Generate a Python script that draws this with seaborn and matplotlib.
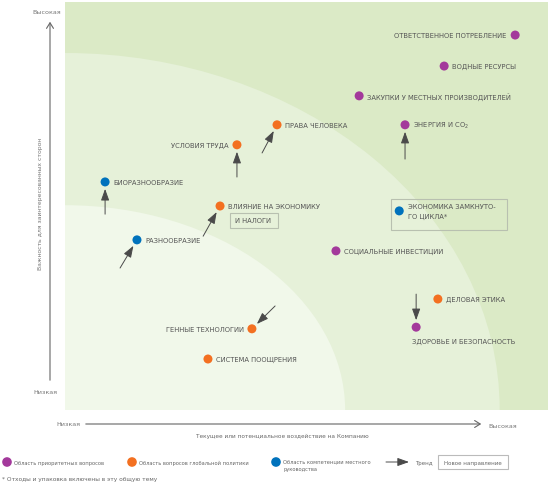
import matplotlib
matplotlib.use('Agg')
import matplotlib.pyplot as plt
from matplotlib.patches import Ellipse, Rectangle
import seaborn as sns
import pandas as pd

# Topics, position on the matrix (impact on company, importance for stakeholders)
topics = ['ОТВЕТСТВЕННОЕ ПОТРЕБЛЕНИЕ', 'ВОДНЫЕ РЕСУРСЫ', 'ЗАКУПКИ У МЕСТНЫХ ПРОИЗВОДИТЕЛЕЙ',
          'ЭНЕРГИЯ И CO$_{\\mathregular{2}}$', 'ПРАВА ЧЕЛОВЕКА', 'УСЛОВИЯ ТРУДА', 'БИОРАЗНООБРАЗИЕ',
          'ВЛИЯНИЕ НА ЭКОНОМИКУ', 'РАЗНООБРАЗИЕ', 'ЭКОНОМИКА ЗАМКНУТО-\nГО ЦИКЛА*',
          'СОЦИАЛЬНЫЕ ИНВЕСТИЦИИ', 'ДЕЛОВАЯ ЭТИКА', 'ЗДОРОВЬЕ И БЕЗОПАСНОСТЬ',
          'ГЕННЫЕ ТЕХНОЛОГИИ', 'СИСТЕМА ПООЩРЕНИЯ']
impact = [93.2, 78.5, 60.9, 70.4, 43.9, 35.6, 8.3, 32.1, 14.9, 69.2, 56.1, 77.2, 72.7, 38.7, 29.6]
importance = [91.9, 84.3, 77.0, 69.9, 69.9, 65.0, 55.9, 50.0, 41.7, 48.8, 39.0, 27.2, 20.3, 19.9, 12.5]
area = ['priority', 'priority', 'priority', 'priority', 'global', 'global', 'local',
        'global', 'local', 'local', 'priority', 'global', 'priority', 'global', 'global']

# Trend arrows: topic index, start point
trend_idx = [3, 4, 5, 6, 7, 8, 12, 13]
trend_x0 = [70.4, 40.8, 35.6, 8.3, 28.6, 11.4, 72.7, 43.5]
trend_y0 = [61.5, 63.0, 57.1, 48.0, 42.6, 34.8, 28.4, 25.5]

legend_labels = ['Область приоритетных вопросов', 'Область вопросов глобальной политики',
                 'Область компетенции местного\nруководства']

colors = {'priority': '#a3399b', 'global': '#f37021', 'local': '#0072bc'}

df = pd.DataFrame({'topic': topics, 'x': impact, 'y': importance, 'area': area})

sns.set_style('white')
plt.rcParams['font.family'] = ['Liberation Sans Narrow', 'DejaVu Sans']

fig = plt.figure(figsize=(5.51, 4.89), dpi=100)

# overlay in pixel coords for axis arrows and legend
ov = fig.add_axes([0, 0, 1, 1])
ov.set_xlim(0, 551)
ov.set_ylim(489, 0)
ov.axis('off')

ax = fig.add_axes([65 / 551, 78 / 489, 483 / 551, 408 / 489])
ax.set_xlim(0, 100)
ax.set_ylim(0, 100)
ax.set_facecolor('#dbeac6')
for s in ax.spines.values():
    s.set_visible(False)
ax.set_xticks([])
ax.set_yticks([])
ax.add_patch(Ellipse((0, 0), 180, 175, facecolor='#e6f1d9', edgecolor='none', zorder=0))
ax.add_patch(Ellipse((0, 0), 116, 100.4, facecolor='#f1f8ea', edgecolor='none', zorder=0))

sns.scatterplot(data=df, x='x', y='y', hue='area', palette=colors, s=42,
                edgecolor='none', legend=False, ax=ax, zorder=3)
ax.set_xlabel('')
ax.set_ylabel('')

fs = 4.9
side = {0: 'l', 5: 'l', 13: 'l', 12: 'b'}
tc = '#555555'
for i, row in df.iterrows():
    sd = side.get(i, 'r')
    if sd == 'r':
        ax.annotate(row['topic'], (row['x'], row['y']), xytext=(6, 0), textcoords='offset points',
                    ha='left', va='center', fontsize=fs, color=tc, linespacing=1.7)
    elif sd == 'l':
        ax.annotate(row['topic'], (row['x'], row['y']), xytext=(-6, 0), textcoords='offset points',
                    ha='right', va='center', fontsize=fs, color=tc)
    else:
        ax.annotate(row['topic'], (row['x'], row['y']), xytext=(-3, -8), textcoords='offset points',
                    ha='left', va='top', fontsize=fs, color=tc)

# "И НАЛОГИ" box under ВЛИЯНИЕ НА ЭКОНОМИКУ
ax.add_patch(Rectangle((34.2, 44.6), 10.0, 3.7, facecolor='none', edgecolor='#b8c0b0', lw=0.8, zorder=2))
ax.text(35.3, 46.45, 'И НАЛОГИ', ha='left', va='center', fontsize=fs, color=tc)
# box around circular economy
ax.add_patch(Rectangle((67.5, 44.1), 24.0, 7.6, facecolor='none', edgecolor='#b8c0b0', lw=0.8, zorder=2))

for k, i in enumerate(trend_idx):
    ax.annotate('', xy=(impact[i], importance[i]), xytext=(trend_x0[k], trend_y0[k]),
                arrowprops=dict(arrowstyle='-|>,head_length=0.7,head_width=0.25', color='#4a4a4a',
                                lw=0.7, shrinkA=0, shrinkB=5), zorder=2)

# axes arrows
ac = '#666666'
ov.annotate('', xy=(50, 20), xytext=(50, 384),
            arrowprops=dict(arrowstyle='->,head_length=0.4,head_width=0.25', color=ac, lw=0.8))
ov.annotate('', xy=(484, 425), xytext=(83, 425),
            arrowprops=dict(arrowstyle='->,head_length=0.4,head_width=0.25', color=ac, lw=0.8))
lc = '#777777'
ov.text(47, 12, 'Высокая', fontsize=4.6, color=lc, ha='center', va='center')
ov.text(45, 392, 'Низкая', fontsize=4.6, color=lc, ha='center', va='center')
ov.text(41, 204, 'Важность для заинтересованных сторон', fontsize=4.45, color=lc,
        rotation=90, ha='center', va='center')
ov.text(80, 425, 'Низкая', fontsize=4.6, color=lc, ha='right', va='center')
ov.text(488, 426, 'Высокая', fontsize=4.6, color=lc, ha='left', va='center')
ov.text(282, 436, 'Текущее или потенциальное воздействие на Компанию', fontsize=4.15,
        color='#666666', ha='center', va='center')

# legend
leg_x = [7, 132, 276]
lfs = 3.7
for k, a in enumerate(['priority', 'global', 'local']):
    ov.scatter(leg_x[k], 463, s=48, color=colors[a], edgecolor='none')
    if k < 2:
        ov.text(leg_x[k] + 7, 463, legend_labels[k], fontsize=lfs, color='#666666',
                ha='left', va='center')
    else:
        ov.text(leg_x[k] + 7, 459.5, legend_labels[k], fontsize=lfs, color='#666666',
                ha='left', va='top', linespacing=1.7)
ov.annotate('', xy=(409, 463), xytext=(386, 463),
            arrowprops=dict(arrowstyle='-|>,head_length=0.7,head_width=0.25', color='#4a4a4a', lw=0.7,
                            shrinkA=0, shrinkB=0))
ov.text(415, 463, 'Тренд', fontsize=4.0, color='#666666', ha='left', va='center')
ov.add_patch(Rectangle((438, 456), 70, 14, facecolor='white', edgecolor='#bbbbbb', lw=0.8))
ov.text(473, 463, 'Новое направление', fontsize=4.0, color='#666666', ha='center', va='center')
ov.text(2, 480, '* Отходы и упаковка включены в эту общую тему', fontsize=4.2,
        color='#666666', ha='left', va='center')

fig.savefig('out.png', dpi=100)
